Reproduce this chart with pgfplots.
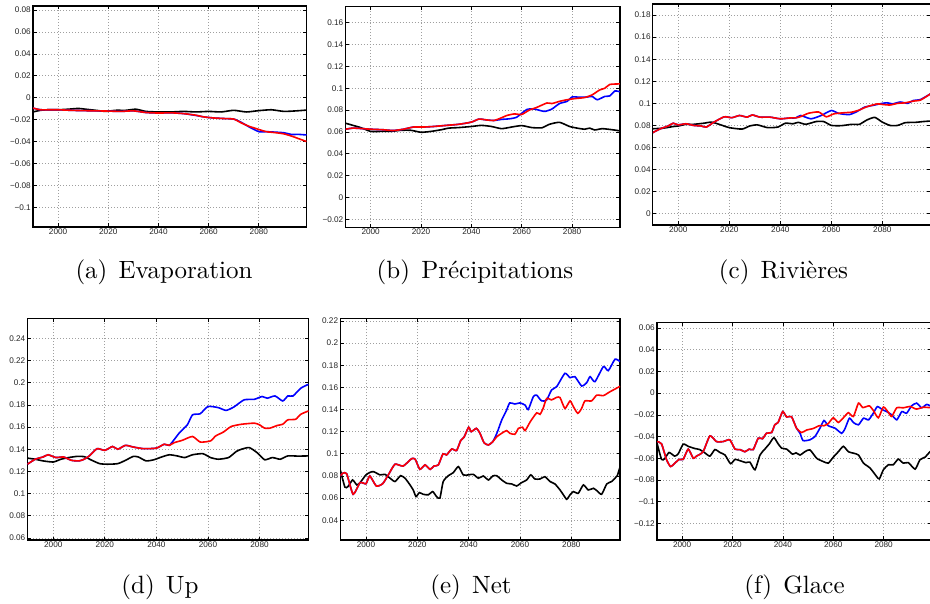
\documentclass[border=0pt]{standalone}
\usepackage{fontspec}
\usepackage{pgfplots}
\pgfplotsset{compat=1.18}
\newfontfamily\tickfont{Liberation Sans}
\newfontfamily\capff[Extension=.otf]{lmroman10-regular}
\newcommand{\capfont}{\capff\fontsize{25}{29}\selectfont}
\definecolor{mblue}{RGB}{0,0,255}
\definecolor{mred}{RGB}{255,0,0}
\pgfplotsset{
  panel/.style={
    scale only axis, anchor=north west,
    xmin=1990, xmax=2099,
    xtick={2000,2020,2040,2060,2080},
    xticklabels={2000,2020,2040,2060,2080},
    grid=major,
    major grid style={gray!75, line width=0.7pt, dash pattern=on 0.8pt off 2.2pt},
    axis line style={line width=1.3pt, black},
    tick align=inside, major tick length=3.5pt,
    tick style={black, line width=0.7pt},
    ticklabel style={font=\tickfont\fontsize{8.2}{9}\selectfont, text=black!85},
    xticklabel style={inner sep=1.2pt},
    yticklabel style={inner sep=2pt},
    every axis plot/.append style={line width=1.6pt, no markers, smooth, tension=0.35},
  }
}
\begin{document}
\begin{tikzpicture}
\useasboundingbox (0,0) rectangle (930pt,-604pt);
% (a) Evaporation
\begin{axis}[panel, at={(33pt,-6pt)}, width=273.5pt, height=221pt,
  ymin=-0.118, ymax=0.0837,
  ytick={-0.1,-0.08,-0.06,-0.04,-0.02,0,0.02,0.04,0.06,0.08},
  yticklabels={−0.1,−0.08,−0.06,−0.04,−0.02,0,0.02,0.04,0.06,0.08}]
\addplot[black] coordinates {(1990,-0.013)(1993,-0.0115)(1996,-0.011)(2000,-0.011)(2004,-0.0105)(2008,-0.0098)(2011,-0.0105)(2015,-0.0115)(2019,-0.0125)(2023,-0.0115)(2027,-0.0115)(2031,-0.0105)(2035,-0.0125)(2040,-0.013)(2045,-0.013)(2050,-0.0125)(2055,-0.013)(2060,-0.0125)(2065,-0.013)(2070,-0.0115)(2075,-0.013)(2080,-0.0118)(2085,-0.011)(2090,-0.0125)(2095,-0.012)(2099,-0.0113)};
\addplot[mblue] coordinates {(1990,-0.0095)(1993,-0.011)(1997,-0.011)(2000,-0.011)(2005,-0.0115)(2010,-0.0118)(2015,-0.012)(2020,-0.0122)(2025,-0.0125)(2030,-0.012)(2035,-0.0135)(2040,-0.014)(2045,-0.0138)(2050,-0.0145)(2055,-0.0162)(2058,-0.0175)(2062,-0.0185)(2066,-0.019)(2070,-0.0195)(2073,-0.0225)(2076,-0.0265)(2080,-0.031)(2083,-0.031)(2087,-0.0315)(2090,-0.032)(2093,-0.0335)(2096,-0.0335)(2099,-0.034)};
\addplot[mred] coordinates {(1990,-0.0095)(1993,-0.011)(1997,-0.011)(2000,-0.011)(2005,-0.0115)(2010,-0.0118)(2015,-0.012)(2020,-0.0122)(2025,-0.0125)(2030,-0.012)(2035,-0.0135)(2040,-0.014)(2045,-0.0138)(2050,-0.0145)(2055,-0.016)(2058,-0.0175)(2062,-0.0185)(2066,-0.019)(2070,-0.0195)(2073,-0.023)(2076,-0.026)(2078,-0.0275)(2080,-0.029)(2083,-0.031)(2087,-0.032)(2090,-0.033)(2093,-0.035)(2096,-0.0375)(2099,-0.04)};
\end{axis}
% (b) Precipitations
\begin{axis}[panel, at={(345.5pt,-6.7pt)}, width=274.4pt, height=221pt,
  ymin=-0.0277, ymax=0.1747,
  ytick={-0.02,0,0.02,0.04,0.06,0.08,0.1,0.12,0.14,0.16},
  yticklabels={−0.02,0,0.02,0.04,0.06,0.08,0.1,0.12,0.14,0.16}]
\addplot[black] coordinates {(1990,0.068)(1993,0.066)(1996,0.064)(2000,0.0605)(2004,0.0605)(2008,0.0605)(2012,0.0615)(2016,0.0615)(2020,0.0597)(2024,0.0605)(2028,0.062)(2031,0.0635)(2035,0.064)(2040,0.065)(2044,0.066)(2048,0.065)(2052,0.063)(2056,0.0645)(2060,0.0658)(2064,0.064)(2068,0.0638)(2071,0.067)(2075,0.0688)(2079,0.065)(2082,0.0635)(2085,0.0625)(2087,0.0635)(2089,0.0618)(2092,0.063)(2096,0.062)(2099,0.061)};
\addplot[mblue] coordinates {(1990,0.0625)(1993,0.0635)(1997,0.063)(2000,0.0625)(2005,0.062)(2009,0.0613)(2013,0.0625)(2017,0.0645)(2021,0.0645)(2025,0.065)(2030,0.066)(2035,0.067)(2040,0.069)(2043,0.0718)(2046,0.071)(2049,0.0705)(2052,0.0715)(2055,0.072)(2058,0.0735)(2062,0.0805)(2065,0.081)(2069,0.0788)(2072,0.081)(2075,0.086)(2078,0.088)(2080,0.092)(2083,0.0918)(2086,0.092)(2088,0.0925)(2090,0.0895)(2093,0.0925)(2095,0.093)(2097,0.0975)(2099,0.0968)};
\addplot[mred] coordinates {(1990,0.0625)(1993,0.0635)(1997,0.063)(2000,0.0625)(2005,0.062)(2009,0.0613)(2013,0.0625)(2017,0.0645)(2021,0.0645)(2025,0.065)(2030,0.066)(2035,0.067)(2040,0.069)(2043,0.0718)(2046,0.071)(2049,0.0705)(2052,0.073)(2054,0.075)(2057,0.0765)(2060,0.076)(2063,0.080)(2066,0.0825)(2070,0.0865)(2072,0.086)(2075,0.088)(2078,0.0895)(2081,0.0905)(2085,0.0915)(2088,0.094)(2091,0.0985)(2093,0.1)(2095,0.1035)(2099,0.104)};
\end{axis}
% (c) Rivieres
\begin{axis}[panel, at={(652.8pt,-4pt)}, width=278pt, height=221pt,
  ymin=-0.0102, ymax=0.19,
  ytick={0,0.02,0.04,0.06,0.08,0.1,0.12,0.14,0.16,0.18},
  yticklabels={0,0.02,0.04,0.06,0.08,0.1,0.12,0.14,0.16,0.18}]
\addplot[black] coordinates {(1990,0.077)(1994,0.0775)(1998,0.079)(2000,0.0795)(2003,0.081)(2006,0.081)(2010,0.082)(2013,0.083)(2016,0.081)(2020,0.078)(2025,0.0767)(2028,0.0795)(2031,0.0805)(2035,0.078)(2039,0.0785)(2042,0.082)(2045,0.0815)(2047,0.0828)(2050,0.081)(2054,0.0835)(2057,0.0835)(2060,0.080)(2064,0.0798)(2068,0.081)(2071,0.081)(2074,0.085)(2077,0.0873)(2080,0.083)(2083,0.080)(2086,0.080)(2089,0.0825)(2093,0.0828)(2096,0.0835)(2099,0.084)};
\addplot[mblue] coordinates {(1990,0.0735)(1993,0.077)(1996,0.0795)(1998,0.082)(2000,0.0805)(2003,0.0815)(2006,0.08)(2009,0.0795)(2011,0.0785)(2014,0.083)(2018,0.0878)(2021,0.087)(2024,0.089)(2027,0.0875)(2029,0.0895)(2032,0.0875)(2036,0.0875)(2040,0.086)(2044,0.0868)(2046,0.0868)(2048,0.089)(2052,0.086)(2056,0.089)(2060,0.0935)(2063,0.0908)(2067,0.0898)(2070,0.0925)(2073,0.0965)(2077,0.0985)(2080,0.100)(2082,0.1005)(2084,0.0995)(2087,0.1012)(2090,0.1)(2092,0.1025)(2095,0.1035)(2099,0.1088)};
\addplot[mred] coordinates {(1990,0.0735)(1993,0.077)(1996,0.0795)(1998,0.082)(2000,0.0805)(2003,0.0815)(2006,0.08)(2009,0.0795)(2011,0.0785)(2014,0.083)(2018,0.0878)(2021,0.087)(2024,0.089)(2027,0.0875)(2029,0.0895)(2032,0.0875)(2036,0.0875)(2040,0.086)(2044,0.0868)(2046,0.0868)(2048,0.088)(2051,0.091)(2055,0.0922)(2058,0.0878)(2061,0.0905)(2065,0.0915)(2068,0.092)(2071,0.094)(2074,0.097)(2078,0.0995)(2080,0.099)(2083,0.0985)(2086,0.1)(2089,0.1005)(2092,0.102)(2095,0.103)(2099,0.1088)};
\end{axis}
% (d) Up
\begin{axis}[panel, at={(27.5pt,-318.3pt)}, width=281pt, height=221.7pt,
  ymin=0.0582, ymax=0.258,
  ytick={0.06,0.08,0.1,0.12,0.14,0.16,0.18,0.2,0.22,0.24},
  yticklabels={0.06,0.08,0.1,0.12,0.14,0.16,0.18,0.2,0.22,0.24}]
\addplot[black] coordinates {(1990,0.132)(1993,0.131)(1996,0.1295)(2000,0.1285)(2003,0.131)(2006,0.1325)(2009,0.1335)(2012,0.1333)(2015,0.130)(2018,0.127)(2021,0.1265)(2025,0.127)(2028,0.130)(2031,0.1335)(2033,0.133)(2036,0.1295)(2039,0.1305)(2042,0.133)(2045,0.135)(2048,0.134)(2051,0.1325)(2054,0.135)(2058,0.136)(2061,0.1325)(2064,0.131)(2068,0.1325)(2071,0.138)(2073,0.140)(2076,0.1415)(2079,0.137)(2082,0.1305)(2085,0.1325)(2088,0.131)(2091,0.134)(2095,0.1338)(2099,0.134)};
\addplot[mblue] coordinates {(1990,0.1265)(1993,0.131)(1996,0.133)(1998,0.135)(2001,0.1325)(2004,0.133)(2007,0.130)(2010,0.1295)(2012,0.131)(2014,0.134)(2017,0.1405)(2020,0.139)(2023,0.1425)(2025,0.140)(2028,0.1435)(2031,0.142)(2035,0.1405)(2040,0.141)(2043,0.1445)(2045,0.1435)(2047,0.149)(2049,0.155)(2052,0.162)(2054,0.171)(2057,0.172)(2060,0.1785)(2064,0.1775)(2067,0.175)(2070,0.178)(2074,0.1845)(2078,0.185)(2081,0.1875)(2083,0.186)(2086,0.188)(2089,0.1835)(2091,0.188)(2093,0.188)(2096,0.195)(2099,0.1985)};
\addplot[mred] coordinates {(1990,0.1265)(1993,0.131)(1996,0.133)(1998,0.135)(2001,0.1325)(2004,0.133)(2007,0.130)(2010,0.1295)(2012,0.131)(2014,0.134)(2017,0.1405)(2020,0.139)(2023,0.1425)(2025,0.140)(2028,0.1435)(2031,0.142)(2035,0.1405)(2040,0.141)(2043,0.1445)(2045,0.1435)(2047,0.146)(2050,0.148)(2054,0.1515)(2057,0.1465)(2061,0.1475)(2063,0.152)(2066,0.1555)(2069,0.1605)(2073,0.1625)(2078,0.1635)(2080,0.162)(2082,0.159)(2084,0.159)(2087,0.1615)(2089,0.1625)(2091,0.1665)(2094,0.167)(2096,0.1715)(2099,0.1745)};
\end{axis}
% (e) Net
\begin{axis}[panel, at={(340.3pt,-318.3pt)}, width=279.8pt, height=221.7pt,
  ymin=0.0222, ymax=0.2224,
  ytick={0.04,0.06,0.08,0.1,0.12,0.14,0.16,0.18,0.2,0.22},
  yticklabels={0.04,0.06,0.08,0.1,0.12,0.14,0.16,0.18,0.2,0.22}]
\addplot[black] coordinates {(1990,0.0854)(1991.8,0.070)(1993,0.0705)(1994.8,0.0764)(1996.4,0.072)(1997.7,0.074)(2000,0.081)(2001.6,0.0833)(2003,0.0839)(2005.5,0.081)(2007.4,0.0815)(2009.4,0.078)(2011.3,0.075)(2013.5,0.0803)(2015.2,0.078)(2016.9,0.0728)(2018.4,0.0674)(2019.5,0.0614)(2020.8,0.065)(2022.3,0.0635)(2024.3,0.063)(2026,0.0659)(2027.5,0.0614)(2028.8,0.060)(2030.1,0.075)(2032.1,0.0803)(2034,0.083)(2036,0.0885)(2037.9,0.081)(2039.9,0.081)(2041.8,0.0815)(2043.8,0.078)(2045.7,0.080)(2047.7,0.0764)(2049.4,0.080)(2050.9,0.0803)(2052.9,0.0764)(2054.8,0.0734)(2056.8,0.0728)(2058.7,0.071)(2060.6,0.074)(2062.6,0.0764)(2064.2,0.081)(2065.8,0.0773)(2067.8,0.0773)(2069.7,0.0794)(2071.7,0.075)(2073.6,0.0728)(2075.6,0.0674)(2076.9,0.063)(2078.2,0.059)(2079.5,0.063)(2080.8,0.0659)(2082.7,0.0644)(2084.7,0.0719)(2086.6,0.0674)(2088.6,0.0689)(2089.9,0.0668)(2091.8,0.0635)(2093.8,0.0728)(2095.7,0.075)(2097,0.078)(2097.9,0.0803)(2099,0.0885)};
\addplot[mblue] coordinates {(1990,0.080)(1991,0.0825)(1992.5,0.082)(1995,0.0635)(1997.7,0.074)(2000,0.073)(2001.5,0.080)(2004,0.071)(2006.5,0.073)(2008.7,0.081)(2011.3,0.0906)(2014.5,0.089)(2017.8,0.0957)(2019.2,0.095)(2021,0.086)(2023,0.090)(2025,0.086)(2026.5,0.089)(2028.2,0.090)(2030,0.100)(2031.4,0.099)(2033.4,0.1044)(2035.3,0.103)(2036.9,0.112)(2038.2,0.115)(2040,0.124)(2041,0.120)(2043,0.123)(2044.4,0.1186)(2046,0.110)(2047.7,0.108)(2049.4,0.111)(2051,0.1186)(2052.9,0.1306)(2054.8,0.1396)(2056,0.146)(2058,0.145)(2060,0.146)(2062,0.144)(2063.2,0.140)(2065.2,0.1517)(2066.5,0.153)(2068.4,0.1478)(2070.4,0.1487)(2072.3,0.1577)(2074.3,0.1607)(2077.5,0.1727)(2079.5,0.1688)(2081.4,0.1697)(2084,0.1613)(2086,0.1643)(2087.3,0.1697)(2089.2,0.1652)(2092.5,0.1788)(2094.4,0.1751)(2097,0.1854)(2099,0.1833)};
\addplot[mred] coordinates {(1990,0.080)(1991,0.0825)(1992.5,0.082)(1995,0.0635)(1997.7,0.074)(2000,0.073)(2001.5,0.080)(2004,0.071)(2006.5,0.073)(2008.7,0.081)(2011.3,0.0906)(2014.5,0.089)(2017.8,0.0957)(2019.2,0.095)(2021,0.086)(2023,0.090)(2025,0.086)(2026.5,0.089)(2028.2,0.090)(2030,0.100)(2031.4,0.099)(2033.4,0.1044)(2035.3,0.103)(2036.9,0.112)(2038.2,0.115)(2040,0.124)(2041,0.120)(2043,0.123)(2044.4,0.1186)(2046,0.110)(2047.7,0.108)(2049.4,0.111)(2051,0.1155)(2052.9,0.1186)(2054.8,0.121)(2056,0.1186)(2058,0.1177)(2059.4,0.123)(2061,0.124)(2062,0.121)(2064,0.129)(2066.5,0.137)(2067.8,0.1357)(2069,0.141)(2070.4,0.150)(2072.3,0.1487)(2074.3,0.151)(2075.6,0.1508)(2077.5,0.141)(2079.5,0.1478)(2080.8,0.1426)(2082.5,0.1366)(2084,0.141)(2085.3,0.1478)(2087.9,0.1478)(2089.9,0.153)(2092.5,0.1526)(2095,0.156)(2099,0.161)};
\end{axis}
% (f) Glace
\begin{axis}[panel, at={(657pt,-322.7pt)}, width=274.5pt, height=217.3pt,
  ymin=-0.1353, ymax=0.0649,
  ytick={-0.12,-0.1,-0.08,-0.06,-0.04,-0.02,0,0.02,0.04,0.06},
  yticklabels={−0.12,−0.1,−0.08,−0.06,−0.04,−0.02,0,0.02,0.04,0.06}]
\addplot[black] coordinates {(1990,-0.046)(1991.8,-0.061)(1993,-0.0605)(1994.8,-0.0547)(1997,-0.058)(1998.4,-0.056)(2000.4,-0.047)(2002.4,-0.049)(2005,-0.051)(2007,-0.052)(2009,-0.055)(2011,-0.058)(2013,-0.052)(2015,-0.0547)(2017,-0.057)(2019.2,-0.065)(2021,-0.061)(2023,-0.0623)(2025.3,-0.064)(2026.9,-0.0636)(2028.9,-0.0706)(2030.9,-0.057)(2032.8,-0.0516)(2034.6,-0.0467)(2036.4,-0.041)(2038.1,-0.0467)(2039.5,-0.0507)(2041.5,-0.0516)(2043.8,-0.0562)(2045.2,-0.055)(2046.8,-0.057)(2048.7,-0.054)(2050.7,-0.0522)(2053.4,-0.060)(2056,-0.063)(2058,-0.0645)(2060,-0.059)(2062,-0.054)(2064,-0.049)(2066,-0.054)(2068,-0.0553)(2070,-0.057)(2072,-0.0645)(2074.6,-0.069)(2077.2,-0.0768)(2078.3,-0.079)(2079.9,-0.0706)(2081.9,-0.066)(2083.8,-0.066)(2085.8,-0.0608)(2087.8,-0.0645)(2089.8,-0.064)(2092.5,-0.070)(2094.4,-0.0614)(2096.4,-0.059)(2098.4,-0.054)(2099,-0.053)};
\addplot[mblue] coordinates {(1990,-0.0446)(1991.8,-0.0467)(1993.8,-0.0614)(1995.4,-0.0676)(1997.1,-0.0645)(1998.8,-0.061)(2000.4,-0.061)(2002.4,-0.0516)(2004.4,-0.060)(2005.7,-0.058)(2008.3,-0.054)(2011,-0.0394)(2013.6,-0.0446)(2016.3,-0.0446)(2018.9,-0.043)(2021,-0.0516)(2023,-0.052)(2024.9,-0.054)(2026.6,-0.0516)(2028.2,-0.052)(2030.2,-0.0415)(2031.9,-0.042)(2033.5,-0.0369)(2035.5,-0.0363)(2036.8,-0.029)(2038.1,-0.027)(2039.9,-0.017)(2041.5,-0.022)(2043.4,-0.0216)(2045.4,-0.0323)(2046.8,-0.037)(2048,-0.0437)(2050.7,-0.043)(2052.7,-0.040)(2054.7,-0.0323)(2056.3,-0.0252)(2058,-0.030)(2060.7,-0.0323)(2063.3,-0.037)(2064.6,-0.033)(2066.4,-0.0231)(2068,-0.0271)(2070,-0.0292)(2072,-0.0231)(2074,-0.0246)(2075.9,-0.0185)(2077.5,-0.0124)(2079.6,-0.0154)(2081.2,-0.017)(2083.2,-0.020)(2085.2,-0.0246)(2087.2,-0.017)(2089.1,-0.0185)(2091.1,-0.0117)(2093.1,-0.0092)(2095.1,-0.0135)(2097.1,-0.0104)(2099,-0.0124)};
\addplot[mred] coordinates {(1990,-0.0446)(1991.8,-0.0467)(1993.8,-0.0614)(1995.4,-0.0676)(1997.1,-0.0645)(1998.8,-0.061)(2000.4,-0.061)(2002.4,-0.0516)(2004.4,-0.060)(2005.7,-0.058)(2008.3,-0.054)(2011,-0.0394)(2013.6,-0.0446)(2016.3,-0.0446)(2018.9,-0.043)(2021,-0.0516)(2023,-0.052)(2024.9,-0.054)(2026.6,-0.0516)(2028.2,-0.052)(2030.2,-0.0415)(2031.9,-0.042)(2033.5,-0.0369)(2035.5,-0.0363)(2036.8,-0.029)(2038.1,-0.027)(2039.9,-0.017)(2041.5,-0.022)(2043.4,-0.0216)(2045.4,-0.0323)(2047.4,-0.0363)(2049.4,-0.034)(2052,-0.0326)(2054.4,-0.030)(2056.3,-0.030)(2058,-0.028)(2060,-0.0227)(2062,-0.027)(2064,-0.0227)(2066,-0.018)(2068,-0.0215)(2070,-0.0092)(2071.7,-0.0133)(2074.3,-0.0117)(2075.9,-0.016)(2077.9,-0.0227)(2079.9,-0.0128)(2081.9,-0.0178)(2083.2,-0.0215)(2085.2,-0.0135)(2087.8,-0.0135)(2090.5,-0.0123)(2093,-0.0147)(2095.8,-0.013)(2099,-0.0135)};
\end{axis}
% captions
\node[anchor=base, font=\capfont] at (164pt,-279pt) {(a)\hspace{0.45em}Evaporation};
\node[anchor=base, font=\capfont] at (475pt,-279pt) {(b)\hspace{0.45em}Précipitations};
\node[anchor=base, font=\capfont] at (783.5pt,-279pt) {(c)\hspace{0.45em}Rivières};
\node[anchor=base, font=\capfont] at (160pt,-593pt) {(d)\hspace{0.45em}Up};
\node[anchor=base, font=\capfont] at (471pt,-593pt) {(e)\hspace{0.45em}Net};
\node[anchor=base, font=\capfont] at (794.5pt,-593pt) {(f)\hspace{0.45em}Glace};
\end{tikzpicture}
\end{document}
